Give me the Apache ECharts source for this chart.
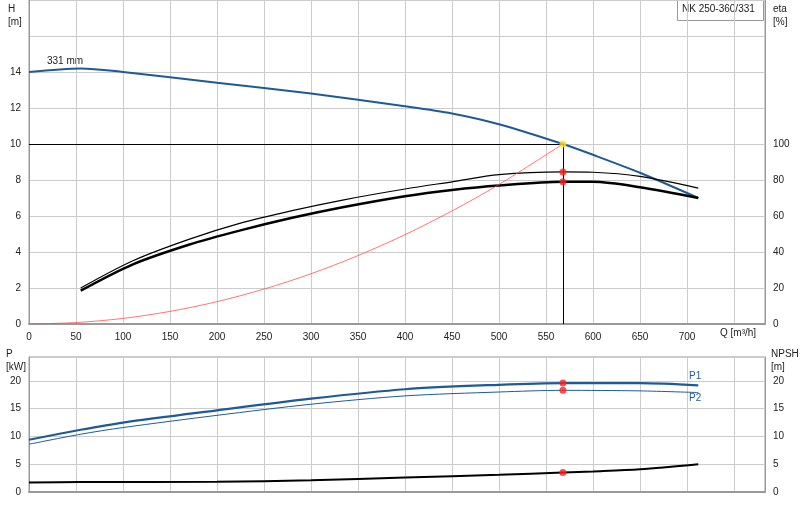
<!DOCTYPE html><html><head><meta charset="utf-8">
<script src="https://cdn.jsdelivr.net/npm/echarts@6/dist/echarts.min.js"></script>
<style>body{margin:0}#c{width:800px;height:520px}</style></head><body><div id="c"></div><script>
const hQ=[0,55,100,200,300,400,450,500,568,600,650,712];
const hV=[14,14.2,14.0,13.4,12.8,12.1,11.7,11.1,10.0,9.4,8.4,7.0];
const eQ=[55,110,170,225,280,335,400,450,500,568,600,650,712];
const eta1=[20,35,47,56,63,69,75,79,83,84.5,84.3,82,75.5];
const eta2=[18.5,33,44,52,59,65,71,74.5,77,79,79,76,70];
const sQ=[0,50,100,150,200,250,300,350,400,450,500,568];
const sV=[0,0.08,0.31,0.7,1.24,1.94,2.79,3.8,4.96,6.28,7.75,10];
const pQ=[0,55,100,200,300,400,500,568,650,712];
const p1=[9.4,11.2,12.5,14.7,16.8,18.5,19.3,19.6,19.6,19.2];
const p2=[8.6,10.4,11.6,13.8,15.8,17.3,18.0,18.3,18.2,17.9];
const nQ=[0,55,200,300,400,500,568,600,650,712];
const npsh=[1.7,1.8,1.85,2.1,2.6,3.1,3.5,3.7,4.1,5.0];
const duty={q:568,h:10,e1:84.5,e2:79,p1:19.6,p2:18.3,n:3.5};
const z=(a,b)=>a.map((x,i)=>[x,b[i]]);
const F='Liberation Sans';
const ax={type:'value',min:0,max:783,interval:50,
 axisLine:{lineStyle:{color:'#999',width:2}},axisTick:{show:false},
 splitLine:{lineStyle:{color:'#ccc'}},axisLabel:{color:'#222',fontFamily:F,fontSize:10,formatter:v=>v<=700?v:''}};
const yb=(o)=>Object.assign({type:'value',axisTick:{show:false},axisLine:{show:true,lineStyle:{color:'#999'}},
 axisLabel:{color:'#222',fontFamily:F,fontSize:10},nameTextStyle:{color:'#222',fontFamily:F,fontSize:10}},o);
const ln=(x,y,d,c,w,extra)=>Object.assign({type:'line',xAxisIndex:x,yAxisIndex:y,data:d,symbol:'none',smooth:0.3,lineStyle:{color:c,width:w},silent:true},extra||{});
const dot=(x,y,d,c)=>({type:'scatter',xAxisIndex:x,yAxisIndex:y,data:d,symbolSize:7,itemStyle:{color:c},z:10});
const c=echarts.init(document.getElementById('c'));
c.setOption({animation:false,
 grid:[{left:29,right:35,top:0,height:324,show:true,borderColor:'#999'},{left:29,right:35,top:357,height:135,show:true,borderColor:'#999'}],
 xAxis:[Object.assign({gridIndex:0},ax),Object.assign({gridIndex:1},ax,{axisLabel:{show:false}})],
 yAxis:[
  yb({gridIndex:0,min:0,max:18,interval:2,axisLabel:{color:'#222',fontSize:10,fontFamily:F,formatter:v=>v<=14?v:''},splitLine:{lineStyle:{color:'#ccc'}}}),
  yb({gridIndex:0,min:0,max:180,interval:20,position:'right',splitLine:{show:false},axisLabel:{color:'#222',fontSize:10,fontFamily:F,formatter:v=>v<=100?v:''}}),
  yb({gridIndex:1,min:0,max:24.3,interval:5,splitLine:{lineStyle:{color:'#ccc'}},axisLabel:{color:'#222',fontSize:10,fontFamily:F,formatter:v=>v<=20?v:''}}),
  yb({gridIndex:1,min:0,max:24.3,interval:5,position:'right',splitLine:{show:false},axisLabel:{color:'#222',fontSize:10,fontFamily:F,formatter:v=>v<=20?v:''}})
 ],
 series:[
  ln(0,0,z(hQ,hV),'#1f5a96',2,{markLine:{silent:true,symbol:'none',label:{show:false},lineStyle:{color:'#000',width:1,type:'solid'},
   data:[[{coord:[0,duty.h]},{coord:[duty.q,duty.h]}],[{coord:[duty.q,duty.h]},{coord:[duty.q,0]}]]}}),
  ln(0,1,z(eQ,eta1),'#000',1.2),
  ln(0,1,z(eQ,eta2),'#000',2.5),
  ln(0,0,z(sQ,sV),'#ff5050',0.8),
  ln(1,2,z(pQ,p1),'#1f5a96',2.2),
  ln(1,2,z(pQ,p2),'#1f5a96',1),
  ln(1,3,z(nQ,npsh),'#000',2),
  dot(0,1,[[duty.q,duty.e1],[duty.q,duty.e2]],'#ff2020'),
  dot(0,0,[[duty.q,duty.h]],'#ffe020'),
  dot(1,2,[[duty.q,duty.p1],[duty.q,duty.p2]],'#ff2020'),
  dot(1,3,[[duty.q,duty.n]],'#ff2020')
 ],
 graphic:[
  {type:'text',left:8,top:3,style:{text:'H\n[m]',fill:'#222',font:'10px '+F,lineHeight:13}},
  {type:'text',left:773,top:3,style:{text:'eta\n[%]',fill:'#222',font:'10px '+F,lineHeight:13}},
  {type:'text',left:47,top:56,style:{text:'331 mm',fill:'#222',font:'10px '+F}},
  {type:'text',left:720,top:328,style:{text:'Q [m³/h]',fill:'#222',font:'10px '+F}},
  {type:'rect',left:677,top:0,shape:{width:86,height:20},style:{fill:'#fff',stroke:'#999'}},
  {type:'text',left:682,top:4,style:{text:'NK 250-360/331',fill:'#222',font:'10px '+F}},
  {type:'text',left:6,top:348,style:{text:'P\n[kW]',fill:'#222',font:'10px '+F,lineHeight:13}},
  {type:'text',left:771,top:348,style:{text:'NPSH\n[m]',fill:'#222',font:'10px '+F,lineHeight:13}},
  {type:'text',left:689,top:371,style:{text:'P1',fill:'#1f5a96',font:'10px '+F}},
  {type:'text',left:689,top:393,style:{text:'P2',fill:'#1f5a96',font:'10px '+F}}
 ]});
</script></body></html>
